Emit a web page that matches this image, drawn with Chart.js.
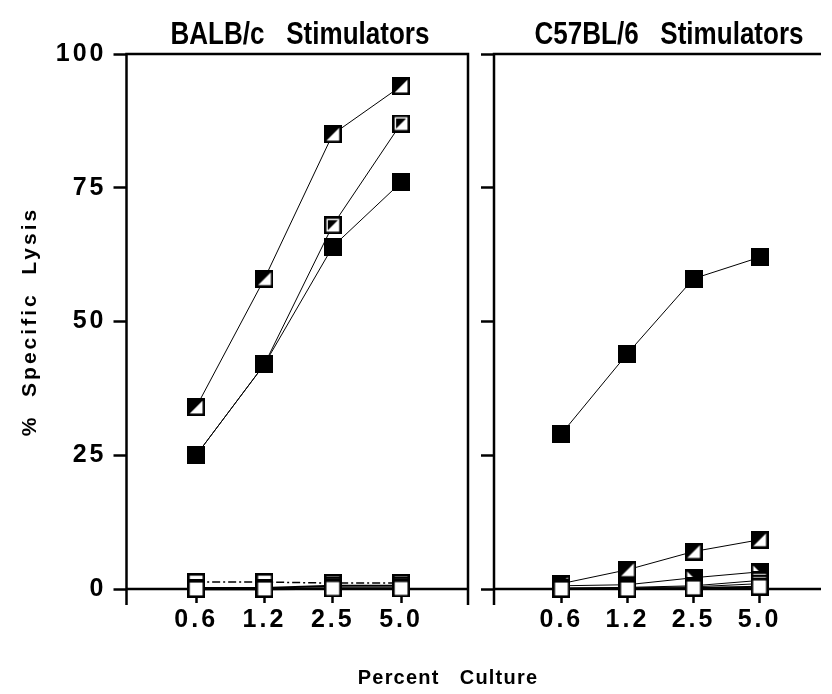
<!doctype html>
<html lang="en">
<head>
<meta charset="utf-8">
<title>% Specific Lysis vs Percent Culture</title>
<style>
  * { margin: 0; padding: 0; }
  body { width: 832px; height: 694px; background: #fff; position: relative; overflow: hidden; }
  .box { position: absolute; top: 0; height: 694px; }
  #leftBox { left: 0; width: 480px; }
  #rightBox { left: 480px; width: 352px; }
  .panelTitle {
    position: absolute; top: 18px; width: 340px; text-align: center; white-space: pre;
    font: bold 31px/31px "Liberation Sans", Arial, sans-serif; color: #000;
    transform: scaleX(0.84); transform-origin: 50% 50%;
  }
  #xTitle {
    position: absolute; top: 665px; left: 348px; width: 200px; text-align: center; white-space: pre;
    font: bold 20px/24px "Liberation Sans", Arial, sans-serif; letter-spacing: 1.2px; color: #000;
  }
</style>
</head>
<body>
  <div class="box" id="leftBox"><canvas id="balbChart"></canvas></div>
  <div class="box" id="rightBox"><canvas id="c57Chart"></canvas></div>
  <div class="panelTitle" style="left:130px">BALB/c   Stimulators</div>
  <div class="panelTitle" style="left:499px">C57BL/6   Stimulators</div>
  <div id="xTitle">Percent   Culture</div>

  <script src="https://cdn.jsdelivr.net/npm/chart.js"></script>
  <script>
    const doses = ['0.6', '1.2', '2.5', '5.0']
    const lysisTicks = [0, 25, 50, 75, 100]

    // BALB/c stimulators
    const balbHalf = [34, 58, 85, 94]
    const balbHalfDark = [25, 42, 68, 87]
    const balbSolid = [25, 42, 64, 76]
    const balbOpenDash = [1.3, 1.3, 1.1, 1.1]
    const balbOpenA = [0.2, 0.2, 0.6, 0.6]
    const balbOpenB = [0, 0, 0.1, 0.1]

    // C57BL/6 stimulators
    const c57Solid = [29, 44, 58, 62]
    const c57Half = [1, 3.6, 7, 9.2]
    const c57HalfDark = [0.6, 0.8, 2.1, 3.2]
    const c57OpenA = [0.2, 0.3, 0.6, 1.6]
    const c57OpenB = [0.1, 0.2, 0.4, 1.0]
    const c57OpenC = [0, 0, 0.2, 0.4]

    // marker images: square with a thick border, various fills
    function makeMarker(kind) {
      const s = 18
      const c = document.createElement('canvas')
      c.width = s
      c.height = s
      const g = c.getContext('2d')
      g.fillStyle = '#fff'
      g.fillRect(0, 0, s, s)
      g.fillStyle = '#000'
      if (kind === 'solid') g.fillRect(0, 0, s, s)
      if (kind === 'half') {
        g.beginPath(); g.moveTo(0, 0); g.lineTo(s, 0); g.lineTo(0, s); g.closePath(); g.fill()
      }
      if (kind === 'ring') {
        g.beginPath(); g.moveTo(4, 4); g.lineTo(s - 4, 4); g.lineTo(4, s - 4); g.closePath(); g.fill()
      }
      if (kind === 'corner') {
        g.beginPath(); g.moveTo(0, 0); g.lineTo(s, 0); g.lineTo(s, s); g.closePath(); g.fill()
      }
      g.lineWidth = 2.6
      g.strokeStyle = '#000'
      g.strokeRect(1.3, 1.3, s - 2.6, s - 2.6)
      return c
    }
    const mk = {
      solid: makeMarker('solid'),
      half: makeMarker('half'),
      ring: makeMarker('ring'),
      corner: makeMarker('corner'),
      open: makeMarker('open')
    }

    function series(values, marker, extra) {
      return Object.assign({
        data: values.map((v, i) => ({ x: i, y: v })),
        borderColor: '#000',
        borderWidth: 1,
        pointStyle: mk[marker],
        pointRadius: 9,
        pointHoverRadius: 9,
        tension: 0,
        fill: false,
        clip: false
      }, extra || {})
    }

    // frame: left axis, top line, bottom axis, optional right border
    const framePlugin = {
      id: 'frame',
      beforeDatasetsDraw(chart, args, opts) {
        const { ctx, chartArea: a } = chart
        ctx.save()
        ctx.strokeStyle = '#000'
        ctx.lineWidth = 2.5
        ctx.beginPath()
        ctx.moveTo(a.left, a.bottom + 16)
        ctx.lineTo(a.left, a.top)
        ctx.lineTo(a.right, a.top)
        if (opts.rightBorder) ctx.lineTo(a.right, a.bottom + 16)
        ctx.moveTo(a.left, a.bottom)
        ctx.lineTo(a.right, a.bottom)
        ctx.stroke()
        ctx.restore()
      }
    }

    const spacingPlugin = {
      id: 'spacing',
      beforeDraw(chart) { chart.ctx.letterSpacing = '3px' }
    }

    const tickFont = { family: '"Liberation Sans", Arial, sans-serif', size: 25, weight: 'bold' }

    function makeOptions(xMax, yWidth, rightPad, showLabels, rightBorder) {
      return {
        responsive: true,
        maintainAspectRatio: false,
        animation: false,
        events: [],
        layout: { padding: { left: 0, right: rightPad, top: 54, bottom: 0 } },
        plugins: {
          legend: { display: false },
          tooltip: { enabled: false },
          frame: { rightBorder: rightBorder }
        },
        scales: {
          x: {
            type: 'linear',
            min: -1.02,
            max: xMax,
            afterBuildTicks: s => { s.ticks = doses.map((d, i) => ({ value: i })) },
            afterFit: s => { s.height = 105 },
            border: { display: false },
            grid: { drawOnChartArea: false, drawTicks: true, tickLength: 14, tickWidth: 2.5, tickColor: '#000' },
            ticks: { callback: v => doses[v], font: tickFont, color: '#000', padding: 2, maxRotation: 0, autoSkip: false }
          },
          y: {
            min: 0,
            max: 100,
            afterBuildTicks: s => { s.ticks = lysisTicks.map(v => ({ value: v })) },
            afterFit: s => { s.width = yWidth },
            border: { display: false },
            grid: { drawOnChartArea: false, drawTicks: true, tickLength: 13, tickWidth: 2.5, tickColor: '#000' },
            ticks: { display: showLabels, font: tickFont, color: '#000', padding: 7 },
            title: {
              display: showLabels,
              text: '%  Specific  Lysis',
              color: '#000',
              font: { family: '"Liberation Sans", Arial, sans-serif', size: 21, weight: 'bold' },
              padding: { top: 18, bottom: 0 }
            }
          }
        }
      }
    }

    const balbChart = new Chart(document.getElementById('balbChart'), {
      type: 'line',
      data: {
        datasets: [
          series(balbOpenB, 'open', { borderWidth: 2.5 }),
          series(balbOpenA, 'open', { borderWidth: 2 }),
          series(balbOpenDash, 'open', { borderWidth: 1.5, borderDash: [8, 3, 2, 3] }),
          series(balbSolid, 'solid'),
          series(balbHalf, 'half'),
          series(balbHalfDark, 'ring')
        ]
      },
      options: makeOptions(3.98, 126.5, 12, true, true),
      plugins: [framePlugin, spacingPlugin]
    })

    const c57Chart = new Chart(document.getElementById('c57Chart'), {
      type: 'line',
      data: {
        datasets: [
          series(c57OpenC, 'open', { borderWidth: 2 }),
          series(c57OpenB, 'open'),
          series(c57OpenA, 'open'),
          series(c57Solid, 'solid'),
          series(c57Half, 'half'),
          series(c57HalfDark, 'corner')
        ]
      },
      options: makeOptions(3.93, 14, 0, false, false),
      plugins: [framePlugin, spacingPlugin]
    })
  </script>
</body>
</html>
